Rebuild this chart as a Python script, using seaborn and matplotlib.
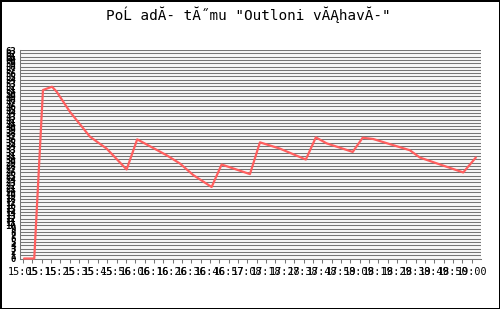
import matplotlib
matplotlib.use("Agg")
import matplotlib.pyplot as plt
import seaborn as sns
import numpy as np
import pandas as pd

# ---- data ----
title_text = "PoĹ adĂ- tĂ˝mu \"Outloni vĂĄhavĂ-\""
time_min = [5.6, 11.1, 15.8, 20.7, 23.2, 30.4, 41.2, 50.2, 61.0, 66.7, 82.6, 89.8,
            97.0, 106.9, 112.3, 127.6, 133.0, 143.8, 157.8, 163.2, 169.0, 183.1,
            188.5, 194.2, 214.0, 219.4, 242.8, 249.6]
rank_val = [0.0, 0.0, 50.9, 51.9, 50.4, 44.3, 36.8, 33.2, 26.9, 36.0, 31.2, 28.7,
            25.2, 21.6, 28.4, 25.5, 35.1, 33.2, 29.9, 36.6, 34.8, 32.2,
            36.5, 36.1, 32.7, 30.5, 26.0, 30.5]
x_labels = ["15:05", "15:15", "15:25", "15:35", "15:45", "15:56", "16:06", "16:16",
            "16:26", "16:36", "16:46", "16:57", "17:08", "17:18", "17:28", "17:38",
            "17:48", "17:59", "18:09", "18:19", "18:29", "18:39", "18:49", "18:50",
            "19:00"]
y_levels = list(range(0, 64))

df = pd.DataFrame({"t": time_min, "v": rank_val})

sns.set_theme(style="white")
plt.rcParams["font.family"] = ["DejaVu Sans Mono", "DejaVu Sans"]

fig = plt.figure(figsize=(5.0, 3.09), dpi=100)
fig.patch.set_facecolor("white")
fig.patch.set_edgecolor("black")
fig.patch.set_linewidth(2)

ax = fig.add_axes([0.04, 1 - 258.5 / 309, 0.922, (258.5 - 50) / 309])
ax.set_facecolor("#f7f7f7")

xmin, xmax = 3.4, 252.4
ax.set_xlim(xmin, xmax)
ax.set_ylim(0, 63)

# horizontal grid
for yv in y_levels:
    ax.axhline(yv, color="#767676", lw=0.75, zorder=1)

sns.lineplot(data=df, x="t", y="v", color="#ff5f5f", lw=1.6, ax=ax,
             zorder=3, clip_on=False)

# x ticks: labels evenly spaced, minor ticks between
px_per_min = 461.0 / (xmax - xmin)
first = xmin + 3.0 / px_per_min
step = 18.7 / px_per_min
major = [first + i * step for i in range(len(x_labels))]
minor = [m + step / 2 for m in major[:-1]]
ax.set_xticks(major)
ax.set_xticklabels(x_labels, fontsize=7.3, color="black")
ax.set_xticks(minor, minor=True)
ax.tick_params(axis="x", which="both", direction="out", length=3, width=0.75,
               color="#777777", pad=3, bottom=True)

ax.set_yticks(y_levels)
ax.set_yticklabels([str(v) for v in y_levels], fontsize=6.5, color="black",
                   fontweight="bold")
ax.tick_params(axis="y", length=0, pad=3)

for s in ["top", "right"]:
    ax.spines[s].set_visible(False)
for s in ["left", "bottom"]:
    ax.spines[s].set_color("#777777")
    ax.spines[s].set_linewidth(0.75)

ax.set_xlabel("")
ax.set_ylabel("")

fig.text(0.497, 1 - 15 / 309, title_text, ha="center", va="center",
         fontsize=10.4, color="black")

fig.savefig("out.png", dpi=100, facecolor="white", edgecolor="black")
